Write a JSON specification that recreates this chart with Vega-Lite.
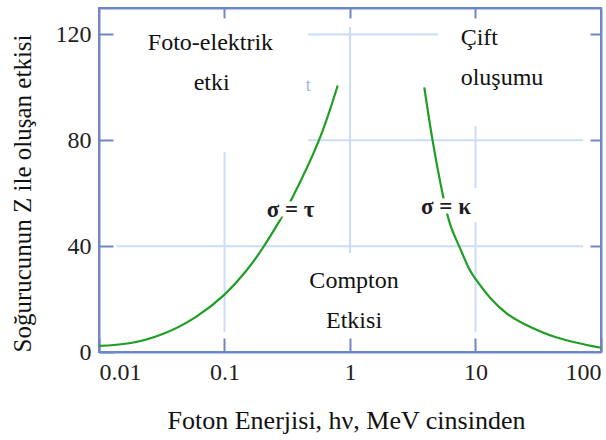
{
  "$schema": "https://vega.github.io/schema/vega-lite/v6.json",
  "width": 502,
  "height": 344,
  "autosize": "none",
  "padding": {"left": 99, "top": 8, "right": 5, "bottom": 88},
  "background": "white",
  "config": {
    "font": "Liberation Serif, Times New Roman, serif",
    "view": {"stroke": "#6f87c8", "strokeWidth": 2},
    "text": {"font": "Liberation Serif, Times New Roman, serif"},
    "axis": {
      "grid": false,
      "domainColor": "#6f87c8",
      "domainWidth": 2,
      "tickColor": "#6f87c8",
      "tickWidth": 2,
      "labelFont": "Liberation Serif, Times New Roman, serif",
      "labelFontSize": 24,
      "labelColor": "#1e1e1e",
      "titleFont": "Liberation Serif, Times New Roman, serif",
      "titleFontWeight": "normal",
      "titleColor": "#111111"
    }
  },
  "datasets": {
    "curves": [
      {"curve": "tau", "e": 0.01, "v": 2.3},
      {"curve": "tau", "e": 0.0174, "v": 3.3},
      {"curve": "tau", "e": 0.0322, "v": 6.8},
      {"curve": "tau", "e": 0.0593, "v": 13.3},
      {"curve": "tau", "e": 0.1, "v": 21.7},
      {"curve": "tau", "e": 0.148, "v": 30.5},
      {"curve": "tau", "e": 0.201, "v": 39.2},
      {"curve": "tau", "e": 0.268, "v": 48.7},
      {"curve": "tau", "e": 0.343, "v": 57.8},
      {"curve": "tau", "e": 0.559, "v": 79.4},
      {"curve": "tau", "e": 0.798, "v": 100.7},
      {"curve": "kappa", "e": 3.91, "v": 100.0},
      {"curve": "kappa", "e": 4.56, "v": 79.7},
      {"curve": "kappa", "e": 5.53, "v": 58.7},
      {"curve": "kappa", "e": 6.38, "v": 47.3},
      {"curve": "kappa", "e": 7.4, "v": 40.0},
      {"curve": "kappa", "e": 8.77, "v": 32.0},
      {"curve": "kappa", "e": 10, "v": 27.6},
      {"curve": "kappa", "e": 13.06, "v": 20.5},
      {"curve": "kappa", "e": 17.7, "v": 14.6},
      {"curve": "kappa", "e": 24.0, "v": 10.8},
      {"curve": "kappa", "e": 44.4, "v": 5.5},
      {"curve": "kappa", "e": 100, "v": 1.6}
    ],
    "grid": [
      {"x1": 0.1, "x2": 0.1, "y1": 7.6, "y2": 75.6},
      {"x1": 1, "x2": 1, "y1": 37.4, "y2": 122.8},
      {"x1": 10, "x2": 10, "y1": 62.0, "y2": 85.4},
      {"x1": 10, "x2": 10, "y1": 7.6, "y2": 49.1},
      {"x1": 0.464, "x2": 5.03, "y1": 120, "y2": 120},
      {"x1": 0.464, "x2": 71.9, "y1": 80, "y2": 80},
      {"x1": 0.0139, "x2": 71.9, "y1": 40, "y2": 40}
    ],
    "labels": [
      {"kind": "center", "text": "Foto-elektrik", "e": 0.0773, "v": 114.1},
      {"kind": "center", "text": "etki", "e": 0.0791, "v": 99.0},
      {"kind": "left", "text": "Çift", "e": 7.62, "v": 116.0},
      {"kind": "left", "text": "oluşumu", "e": 7.62, "v": 100.9},
      {"kind": "center", "text": "Compton", "e": 1.077, "v": 24.1},
      {"kind": "center", "text": "Etkisi", "e": 1.077, "v": 9.0},
      {"kind": "sigma", "text": "σ = τ", "e": 0.336, "v": 51.1},
      {"kind": "sigma", "text": "σ = κ", "e": 5.82, "v": 52.0},
      {"kind": "ghost", "text": "t", "e": 0.465, "v": 98.6}
    ]
  },
  "layer": [
    {
      "data": {"name": "grid"},
      "mark": {"type": "rule", "color": "#c9dcf8", "strokeWidth": 2},
      "encoding": {
        "x": {
          "field": "x1",
          "type": "quantitative",
          "scale": {"type": "log", "domain": [0.01, 100], "nice": false},
          "axis": {
            "orient": "bottom",
            "values": [0.01, 0.1, 1, 10, 100],
            "format": "~g",
            "tickSize": -14,
            "labelPadding": 22,
            "labelFlush": true,
            "title": "Foton Enerjisi, hν, MeV cinsinden",
            "titleFontSize": 26,
            "titleX": 247,
            "titleY": 76,
            "titleAlign": "center",
            "titleBaseline": "alphabetic"
          }
        },
        "x2": {"field": "x2"},
        "y": {
          "field": "y1",
          "type": "quantitative",
          "scale": {"domain": [0, 130], "nice": false},
          "axis": {
            "orient": "left",
            "values": [0, 40, 80, 120],
            "tickSize": -14,
            "labelPadding": 22,
            "title": "Soğurucunun Z ile oluşan etkisi",
            "titleFontSize": 25,
            "titleAngle": -90,
            "titleX": -77,
            "titleY": 185,
            "titleAlign": "center",
            "titleBaseline": "middle"
          }
        },
        "y2": {"field": "y2"}
      }
    },
    {
      "data": {"name": "curves"},
      "mark": {"type": "line", "color": "#1f9e24", "strokeWidth": 2.2, "interpolate": "natural"},
      "encoding": {
        "x": {"field": "e", "type": "quantitative", "axis": null},
        "y": {"field": "v", "type": "quantitative", "axis": null},
        "detail": {"field": "curve"}
      }
    },
    {
      "data": {"name": "labels"},
      "transform": [{"filter": "datum.kind === 'sigma'"}],
      "mark": {"type": "text", "align": "center", "baseline": "alphabetic", "fontSize": 23, "fontWeight": "bold", "stroke": "white", "strokeWidth": 9, "color": "white"},
      "encoding": {
        "x": {"field": "e", "type": "quantitative", "axis": null},
        "y": {"field": "v", "type": "quantitative", "axis": null},
        "text": {"field": "text"}
      }
    },
    {
      "data": {"name": "labels"},
      "transform": [{"filter": "datum.kind === 'sigma'"}],
      "mark": {"type": "text", "align": "center", "baseline": "alphabetic", "fontSize": 23, "fontWeight": "bold", "color": "#1e1e1e"},
      "encoding": {
        "x": {"field": "e", "type": "quantitative", "axis": null},
        "y": {"field": "v", "type": "quantitative", "axis": null},
        "text": {"field": "text"}
      }
    },
    {
      "data": {"name": "labels"},
      "transform": [{"filter": "datum.kind === 'center'"}],
      "mark": {"type": "text", "align": "center", "baseline": "alphabetic", "fontSize": 24, "color": "#111111"},
      "encoding": {
        "x": {"field": "e", "type": "quantitative", "axis": null},
        "y": {"field": "v", "type": "quantitative", "axis": null},
        "text": {"field": "text"}
      }
    },
    {
      "data": {"name": "labels"},
      "transform": [{"filter": "datum.kind === 'left'"}],
      "mark": {"type": "text", "align": "left", "baseline": "alphabetic", "fontSize": 24, "color": "#111111"},
      "encoding": {
        "x": {"field": "e", "type": "quantitative", "axis": null},
        "y": {"field": "v", "type": "quantitative", "axis": null},
        "text": {"field": "text"}
      }
    },
    {
      "data": {"name": "labels"},
      "transform": [{"filter": "datum.kind === 'ghost'"}],
      "mark": {"type": "text", "align": "center", "baseline": "alphabetic", "fontSize": 18, "color": "#9db9e2"},
      "encoding": {
        "x": {"field": "e", "type": "quantitative", "axis": null},
        "y": {"field": "v", "type": "quantitative", "axis": null},
        "text": {"field": "text"}
      }
    },
    {
      "data": {"name": "grid"},
      "mark": {"type": "rule", "opacity": 0},
      "encoding": {
        "x": {
          "field": "x1",
          "type": "quantitative",
          "axis": {"orient": "top", "values": [0.1, 1, 10], "labels": false, "title": null, "tickSize": -10}
        },
        "y": {
          "field": "y1",
          "type": "quantitative",
          "axis": {"orient": "right", "values": [40, 80, 120], "labels": false, "title": null, "tickSize": -11}
        }
      }
    }
  ],
  "resolve": {"axis": {"x": "independent", "y": "independent"}}
}
